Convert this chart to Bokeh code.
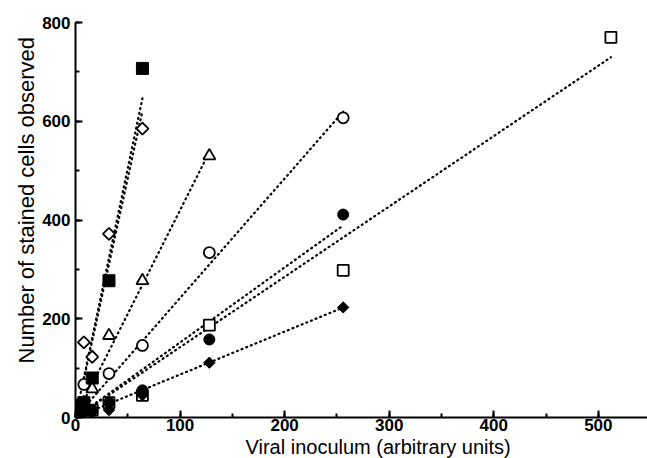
import numpy as np
from bokeh.plotting import figure
from bokeh.models import Range1d, SingleIntervalTicker, Title
from bokeh.embed import file_html
from bokeh.resources import INLINE

# ---- data (viral inoculum, arbitrary units; stained cells) ----
filled_sq_x = [2, 4, 8, 16, 32, 64]
filled_sq_y = [10, 25, 30, 80, 277, 707]
open_dia_x = [8, 16, 32, 64]
open_dia_y = [152, 123, 372, 585]
tri_x = [4, 8, 16, 32, 64, 128]
tri_y = [10, 30, 58, 166, 277, 530]
open_circ_x = [4, 8, 32, 64, 128, 256]
open_circ_y = [20, 67, 89, 146, 334, 607]
filled_circ_x = [4, 8, 16, 32, 64, 128, 256]
filled_circ_y = [10, 15, 15, 30, 55, 158, 411]
open_sq_x = [8, 16, 32, 64, 128, 256, 512]
open_sq_y = [10, 15, 30, 45, 187, 298, 770]
filled_dia_x = [4, 8, 16, 32, 64, 128, 256]
filled_dia_y = [3, 8, 10, 15, 45, 111, 223]

# fitted slopes (cells per unit) of the dotted regression lines
fit_slope_filled_sq = 10.1
fit_slope_open_dia = 9.7
fit_slope_tri = 4.2
fit_slope_open_circ = 2.42
fit_slope_filled_circ = 1.52
fit_slope_open_sq = 1.425
fit_slope_filled_dia = 0.87

x_title = "Viral inoculum (arbitrary units)"
y_title = "Number of stained cells observed"

FONT = "Liberation Sans"

p = figure(width=647, height=458, output_backend="svg", toolbar_location=None,
           x_range=Range1d(0, 547), y_range=Range1d(0, 800),
           min_border_left=75, min_border_top=22, min_border_right=0, min_border_bottom=41)
p.outline_line_color = None
p.xgrid.visible = False
p.ygrid.visible = False

# regression lines
fits = [
    (filled_sq_x, fit_slope_filled_sq),
    (open_dia_x, fit_slope_open_dia),
    (tri_x, fit_slope_tri),
    (open_circ_x, fit_slope_open_circ),
    (filled_circ_x, fit_slope_filled_circ),
    (open_sq_x, fit_slope_open_sq),
    (filled_dia_x, fit_slope_filled_dia),
]
for xs, slope in fits:
    lx = np.array([min(xs), max(xs)], dtype=float)
    p.line(lx, slope * lx, line_color="black", line_width=2.2, line_dash="1 4", line_cap="round")

# open markers
p.scatter(open_dia_x, open_dia_y, marker="square", angle=np.pi / 4, size=8.5,
          fill_color="white", line_color="black", line_width=1.8)
p.scatter(tri_x, tri_y, marker="triangle", size=12,
          fill_color="white", line_color="black", line_width=1.8)
p.scatter(open_circ_x, open_circ_y, marker="circle", size=11,
          fill_color="white", line_color="black", line_width=1.8)
p.scatter(open_sq_x, open_sq_y, marker="square", size=11,
          fill_color="white", line_color="black", line_width=1.8)
# filled markers
p.scatter(filled_circ_x, filled_circ_y, marker="circle", size=11,
          fill_color="black", line_color="black")
p.scatter(filled_dia_x, filled_dia_y, marker="square", angle=np.pi / 4, size=8,
          fill_color="black", line_color="black")
p.scatter(filled_sq_x, filled_sq_y, marker="square", size=12,
          fill_color="black", line_color="black")

p.xaxis.ticker = SingleIntervalTicker(interval=100, num_minor_ticks=2)
p.yaxis.ticker = SingleIntervalTicker(interval=200, num_minor_ticks=2)
for ax in (p.xaxis[0], p.yaxis[0]):
    ax.axis_line_width = 2
    ax.axis_line_color = "black"
    ax.major_tick_in = 7
    ax.major_tick_out = 0
    ax.minor_tick_in = 4
    ax.minor_tick_out = 0
    ax.major_tick_line_width = 2
    ax.minor_tick_line_width = 2
    ax.major_label_text_font = FONT
    ax.major_label_text_font_style = "bold"
    ax.major_label_text_font_size = "17px"
    ax.major_label_text_color = "black"
p.xaxis.major_label_standoff = 1
p.yaxis.major_label_standoff = 5

p.add_layout(Title(text=x_title, align="left", offset=170, text_font=FONT,
                   text_font_style="normal", text_font_size="20px",
                   text_color="black", standoff=0), "below")
p.add_layout(Title(text=y_title, align="left", offset=54, text_font=FONT,
                   text_font_style="normal", text_font_size="22px",
                   text_color="black", standoff=2), "left")

open("out.html", "w").write(file_html(p, INLINE))
